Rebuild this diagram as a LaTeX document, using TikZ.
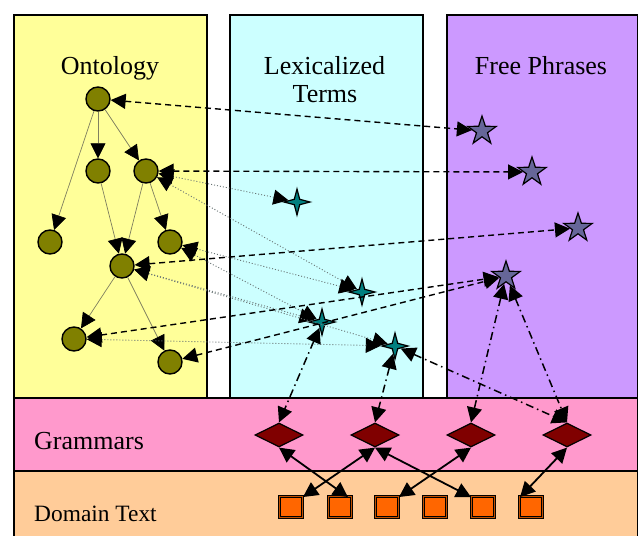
\documentclass[tikz,border=0pt]{standalone}
\usepackage{fontspec}
\setmainfont{Liberation Serif}
\usetikzlibrary{shapes.geometric,arrows.meta,calc}
\definecolor{ontc}{HTML}{FFFF99}
\definecolor{lexc}{HTML}{CCFFFF}
\definecolor{frc}{HTML}{CC99FF}
\definecolor{gramband}{HTML}{FF99CC}
\definecolor{domband}{HTML}{FFCC99}
\definecolor{onodec}{HTML}{808000}
\definecolor{termc}{HTML}{008080}
\definecolor{phrasec}{HTML}{666699}
\definecolor{gramc}{HTML}{800000}
\definecolor{sqfill}{HTML}{FF6600}
\definecolor{sqedge}{HTML}{C05000}
\definecolor{treec}{HTML}{808060}
\definecolor{dotc}{HTML}{687474}
\begin{document}
\begin{tikzpicture}[x=1pt,y=-1pt,
  panel/.style={draw=black,line width=1.5pt},
  title/.style={font=\fontsize{26}{30}\selectfont,inner sep=0pt,anchor=base},
  onode/.style={circle,draw=black,line width=1.4pt,fill=onodec,minimum size=24pt,inner sep=0pt},
  term/.style={star,star points=4,star point ratio=3.4,draw=black,line width=1.2pt,fill=termc,minimum size=26pt,inner sep=0pt},
  phrase/.style={star,star points=5,star point ratio=2.6,draw=black,line width=1.2pt,fill=phrasec,minimum size=30pt,inner sep=0pt},
  gram/.style={diamond,aspect=2,draw=black,line width=1.2pt,fill=gramc,minimum width=48pt,minimum height=24pt,inner sep=0pt},
  dtext/.style={rectangle,draw=black,line width=0.9pt,double=sqedge,double distance=1.6pt,fill=sqfill,minimum width=23pt,minimum height=21pt,inner sep=0pt},
  tip/.tip={Triangle[length=15pt,width=15pt,color=black]},
  tree/.style={-tip,draw=treec,line width=0.7pt},
  dashc/.style={tip-tip,draw=black,line width=1.4pt,dash pattern=on 6pt off 4pt},
  dotl/.style={tip-tip,draw=dotc,line width=0.9pt,dash pattern=on 1pt off 2pt},
  dashdot/.style={tip-tip,draw=black,line width=1.5pt,dash pattern=on 8pt off 4pt on 1.5pt off 4pt},
  solidc/.style={tip-tip,draw=black,line width=1.8pt}]
\useasboundingbox (0,0) rectangle (638,536);
\fill[white] (0,0) rectangle (638,536);
% panels
\draw[panel,fill=ontc] (14,15) rectangle (207,398);
\draw[panel,fill=lexc] (230,15) rectangle (423,398);
\draw[panel,fill=frc] (447,15) rectangle (637.5,398);
\draw[panel,fill=gramband] (14,398) rectangle (637.5,471);
\draw[panel,fill=domband] (14,471) rectangle (637.5,545);
% titles
\node[title] (tont) at (110,74) {Ontology};
\node[title] (tlex1) at (324.5,74) {Lexicalized};
\node[title] (tlex2) at (325,102) {Terms};
\node[title] (tfree) at (541,74) {Free Phrases};
\node[font=\fontsize{26}{30}\selectfont,inner sep=0pt,anchor=west] (tgram) at (34,441) {Grammars};
\node[font=\fontsize{23.4}{28}\selectfont,inner sep=0pt,anchor=west] (tdom) at (34,514) {Domain Text};
% ontology nodes
\node[onode] (oA) at (98,99) {};
\node[onode] (oB) at (98,171) {};
\node[onode] (oC) at (146,171) {};
\node[onode] (oD) at (50,242) {};
\node[onode] (oE) at (170,242) {};
\node[onode] (oF) at (122,266) {};
\node[onode] (oG) at (74,339) {};
\node[onode] (oH) at (170,362) {};
% terms
\node[term] (t1) at (297,202) {};
\node[term] (t2) at (362,292) {};
\node[term] (t3) at (322,322) {};
\node[term] (t4) at (395,346) {};
% phrases
\node[phrase] (p1) at (482,131) {};
\node[phrase] (p2) at (532,172) {};
\node[phrase] (p3) at (578,228) {};
\node[phrase] (p4) at (506,276) {};
% grammars
\node[gram] (gr1) at (279,435) {};
\node[gram] (gr2) at (375,435) {};
\node[gram] (gr3) at (471,435) {};
\node[gram] (gr4) at (567,435) {};
% domain text
\node[dtext] (dt1) at (291,507) {};
\node[dtext] (dt2) at (340,507) {};
\node[dtext] (dt3) at (387,507) {};
\node[dtext] (dt4) at (435,507) {};
\node[dtext] (dt5) at (483,507) {};
\node[dtext] (dt6) at (531,507) {};
% tree edges
\draw[tree] (oA) -- (oB);
\draw[tree] (oA) -- (oC);
\draw[tree] (oA) -- (oD);
\draw[tree] (oB) -- (oF);
\draw[tree] (oC) -- (oF);
\draw[tree] (oC) -- (oE);
\draw[tree] (oF) -- (oG);
\draw[tree] (oF) -- (oH);
% dotted ontology - terms
\draw[dotl] (oC) -- (t1);
\draw[dotl] (oC) -- (t2);
\draw[dotl] (oE) -- (t2);
\draw[dotl] (oE) -- (t3);
\draw[dotl] (oF) -- (t3);
\draw[dotl] (oF) -- (t4);
\draw[dotl] (oG) -- (t4);
% dashed ontology - phrases
\draw[dashc] (oA) -- (p1);
\draw[dashc] (oC) -- (p2);
\draw[dashc] (oF) -- (p3);
\draw[dashc] (oG) -- (p4);
\draw[dashc] (oH) -- (p4);
% dash-dot terms/phrases - grammars
\draw[dashdot] (t3) -- (gr1.north);
\draw[dashdot] (t4) -- (gr2.north);
\draw[dashdot] (t4) -- (gr4.north);
\draw[dashdot] (p4) -- (gr3.north);
\draw[dashdot] (p4) -- (gr4.north);
% grammars - domain text
\draw[solidc] (gr1.south) -- ([xshift=-4pt,yshift=-1pt]dt2.north east);
\draw[solidc] (gr2.south) -- ([yshift=-1pt]dt1.north east);
\draw[solidc] (gr2.south) -- ([yshift=-1pt]dt5.north west);
\draw[solidc] (gr3.south) -- ([yshift=-1pt]dt3.north east);
\draw[solidc] (gr4.south) -- ([xshift=1pt,yshift=-1pt]dt6.north west);
\end{tikzpicture}
\end{document}
